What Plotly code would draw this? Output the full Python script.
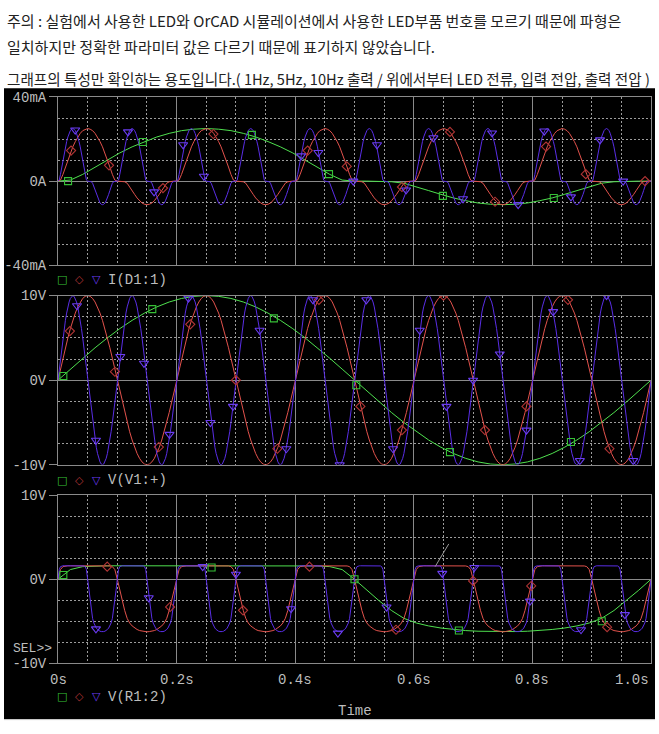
import numpy as np
import plotly.graph_objects as go

# ---------------- data ----------------
FREQS_HZ = [1, 5, 10]                  # green, red, blue traces
SERIES_NAMES = ["1Hz", "5Hz", "10Hz"]

# One period (0..360 deg, 7.5 deg steps); the 5 Hz / 10 Hz
# traces show the very same period shape repeated 5 / 10 times in 1 s.
VIN_PERIOD = [0, 1.31, 2.59, 3.83, 5.0, 6.09, 7.07, 7.93, 8.66, 9.24, 9.66, 9.91, 10.0,
              9.91, 9.66, 9.24, 8.66, 7.93, 7.07, 6.09, 5.0, 3.83, 2.59, 1.31, 0,
              -1.31, -2.59, -3.83, -5.0, -6.09, -7.07, -7.93, -8.66, -9.24, -9.66, -9.91, -10.0,
              -9.91, -9.66, -9.24, -8.66, -7.93, -7.07, -6.09, -5.0, -3.83, -2.59, -1.31, 0]
VOUT_PERIOD = [0, 1.15, 1.5, 1.58, 1.6, 1.6, 1.6, 1.6, 1.6, 1.6, 1.6, 1.6, 1.6,
               1.6, 1.6, 1.6, 1.6, 1.6, 1.6, 1.6, 1.6, 1.58, 1.5, 1.15, 0,
               -1.31, -2.57, -3.72, -4.65, -5.2, -5.55, -5.8, -5.97, -6.1, -6.18, -6.22, -6.25,
               -6.22, -6.18, -6.1, -5.97, -5.8, -5.55, -5.2, -4.65, -3.72, -2.57, -1.31, 0]
ILED_PERIOD = [0, 0.5, 3.2, 6.7, 10.1, 13.4, 16.3, 18.8, 21.0, 22.7, 24.0, 24.7, 25.0,
               24.7, 24.0, 22.7, 21.0, 18.8, 16.3, 13.4, 10.1, 6.7, 3.2, 0.5, 0,
               0, 0, -0.3, -1.0, -2.6, -4.5, -6.3, -8.0, -9.3, -10.4, -11.0, -11.2,
               -11.0, -10.4, -9.3, -8.0, -6.3, -4.5, -2.6, -1.0, -0.3, 0, 0, 0]

# symbol markers (time s, value)
TOP_MARK_T = [[0.017, 0.143, 0.327, 0.457, 0.649, 0.836],
              [0.022, 0.086, 0.177, 0.262, 0.421, 0.487, 0.58, 0.661, 0.737, 0.823, 0.89, 0.99],
              [0.029, 0.118, 0.162, 0.211, 0.246, 0.41, 0.439, 0.498, 0.538, 0.587, 0.633, 0.683,
               0.732, 0.776, 0.82, 0.865, 0.914, 0.953]]
TOP_MARK_V = [[0, 18.6, 22, 3.3, -7, -8],
              [14.5, 7.5, -3.3, 22.4, 14.5, 7, -2.8, 23.4, -9.8, 16.4, 3.3, 0],
              [24.3, 23.4, -5.1, 17.3, 2.3, 12.0, 13.6, 0, 17.3, -4.2, 20.6, -8.4,
               22.9, -11.2, 23.8, -7.5, 19.6, 0]]
MID_MARK_T = [[0.009, 0.159, 0.364, 0.503, 0.661, 0.865],
              [0.02, 0.096, 0.17, 0.223, 0.30, 0.37, 0.44, 0.51, 0.58, 0.65, 0.72, 0.79, 0.86, 0.93],
              [0.032, 0.064, 0.105, 0.145, 0.188, 0.22, 0.257, 0.295, 0.34, 0.385, 0.43, 0.475, 0.52,
               0.565, 0.61, 0.655, 0.70, 0.745, 0.79, 0.835, 0.88, 0.925, 0.97]]
MID_MARK_V = [[0.5, 8.4, 7.3, -0.6, -8.5, -7.3],
              [5.8, 1.0, -7.9, 6.6, 0.0, -8.1, 9.5, -3.1, -5.9, 10.0, -5.9, -3.1, 9.5, -8.1],
              [8.8, -7.1, 2.8, 2.0, -6.4, 9.7, -5.0, -3.1, 5.9, -8.1, 9.5, -10.0, 9.5,
               -8.1, 5.9, -3.1, 0.0, 3.1, -5.9, 8.1, -9.5, 10.0, -9.5]]
BOT_MARK_T = [[0.009, 0.259, 0.5, 0.676, 0.917],
              [0.083, 0.189, 0.312, 0.424, 0.57, 0.7, 0.798, 0.926],
              [0.064, 0.153, 0.244, 0.3, 0.393, 0.472, 0.554, 0.648, 0.702, 0.796, 0.882, 0.956]]
BOT_MARK_V = [[0.5, 1.4, 0, -6.1, -5.0],
              [1.5, -3.3, -3.7, 1.5, -6.0, -0.2, -0.8, -5.7],
              [-5.9, -2.2, 1.5, 0.6, -3.5, -6.4, -3.3, 0.7, 1.4, -2.6, -6.0, -4.2]]

Y_TICKS = [[-40, 0, 40], [-10, 0, 10], [-10, 0, 10]]
Y_TICKTEXT = [["-40mA", "0A", "40mA"], ["-10V", "0V", "10V"], ["-10V", "0V", "10V"]]
X_TICKS = [0, 0.2, 0.4, 0.6, 0.8, 1.0]
X_TICKTEXT = ["0s", "0.2s", "0.4s", "0.6s", "0.8s", "1.0s"]
TRACE_LABELS = ["I(D1:1)", "V(V1:+)", "V(R1:2)"]

NOTE_LINES = [
    "주의 : 실험에서 사용한 LED와 OrCAD 시뮬레이션에서 사용한 LED부품 번호를 모르기 때문에 파형은",
    "일치하지만 정확한 파라미터 값은 다르기 때문에 표기하지 않았습니다.",
    "그래프의 특성만 확인하는 용도입니다.( 1Hz, 5Hz, 10Hz 출력 / 위에서부터 LED 전류, 입력 전압, 출력 전압 )",
]

# ---------------- styling ----------------
W, H = 659, 734
LINE_COLORS = ["#4fe04f", "#e2524c", "#5a2ee6"]
MARK_COLORS = ["#36c036", "#b03434", "#6a3cf0"]
MARK_SYMBOLS = ["square-open", "diamond-open", "triangle-down-open"]
MARK_SIZES = [7, 7, 8]
FRAME = "#8a8a8a"
DOTC = "#9c9c9c"
LABEL = "#bdbdbd"
MONO = "Liberation Mono, DejaVu Sans Mono, monospace"
PLOT_X = (58, 651)
PANELS = [(92, 264), (295, 468), (499, 671)]
LEGEND_Y = [279, 484, 705]
NOTE_Y = [14, 40, 73]
NOTE_SIZE = [15.0, 15.0, 14.6]


def px(y):
    return 1 - y / H


def tile(period, f):
    n = len(period) - 1
    t, v = [], []
    for k in range(f):
        for i in range(n):
            t.append((k + i / n) / f)
            v.append(period[i])
    t.append(1.0)
    v.append(period[-1])
    return t, v


fig = go.Figure()
periods = [ILED_PERIOD, VIN_PERIOD, VOUT_PERIOD]
marks = [(TOP_MARK_T, TOP_MARK_V), (MID_MARK_T, MID_MARK_V), (BOT_MARK_T, BOT_MARK_V)]

for p in range(3):
    xa, ya = ("x", "y") if p == 0 else (f"x{p+1}", f"y{p+1}")
    for s in range(3):
        t, v = tile(periods[p], FREQS_HZ[s])
        fig.add_trace(go.Scatter(x=t, y=v, mode="lines", xaxis=xa, yaxis=ya,
                                 line=dict(color=LINE_COLORS[s], width=1),
                                 name=SERIES_NAMES[s], showlegend=False, hoverinfo="skip"))
    for s in range(3):
        fig.add_trace(go.Scatter(x=marks[p][0][s], y=marks[p][1][s], mode="markers",
                                 xaxis=xa, yaxis=ya,
                                 marker=dict(symbol=MARK_SYMBOLS[s], size=MARK_SIZES[s],
                                             color=MARK_COLORS[s], line=dict(width=1.1, color=MARK_COLORS[s])),
                                 showlegend=False, hoverinfo="skip"))

minor_x = [0.05, 0.1, 0.15, 0.25, 0.3, 0.35, 0.45, 0.5, 0.55, 0.65, 0.7, 0.75, 0.85, 0.9, 0.95]
layout = dict(width=W, height=H, margin=dict(l=0, r=0, t=0, b=0),
              paper_bgcolor="white", plot_bgcolor="black", showlegend=False)
for p in range(3):
    ytop, ybot = PANELS[p]
    sx = "" if p == 0 else str(p + 1)
    yr = Y_TICKS[p][-1]
    step = yr / 4
    layout["xaxis" + sx] = dict(domain=[PLOT_X[0] / W, PLOT_X[1] / W], range=[0, 1],
                                anchor="y" + sx, showline=True, linecolor=FRAME, linewidth=1, mirror=True,
                                tickmode="array", tickvals=X_TICKS, showticklabels=False, ticks="",
                                showgrid=True, gridcolor=FRAME, gridwidth=1, zeroline=False,
                                minor=dict(tickmode="array", tickvals=minor_x, showgrid=True,
                                           gridcolor=DOTC, griddash="2px,2px", gridwidth=1, ticks=""),
                                fixedrange=True)
    layout["yaxis" + sx] = dict(domain=[px(ybot), px(ytop)], range=[-yr, yr], anchor="x" + sx,
                                showline=True, linecolor=FRAME, linewidth=1, mirror=True,
                                tickmode="array", tickvals=Y_TICKS[p], ticktext=Y_TICKTEXT[p],
                                ticks="outside", ticklen=8, tickcolor=FRAME, tickwidth=1,
                                tickfont=dict(family=MONO, size=14, color=LABEL),
                                showgrid=True, gridcolor=FRAME, gridwidth=1, zeroline=False,
                                minor=dict(tickmode="array",
                                           tickvals=[-3 * step, -2 * step, -step, step, 2 * step, 3 * step],
                                           showgrid=True, gridcolor=DOTC, griddash="2px,2px", gridwidth=1,
                                           ticks=""),
                                fixedrange=True)
fig.update_layout(**layout)

shapes = [dict(type="rect", xref="paper", yref="paper", x0=4 / W, x1=655 / W, y0=px(728), y1=px(83),
               fillcolor="black", line=dict(width=0), layer="below"),
          dict(type="line", xref="paper", yref="paper", x0=4 / W, x1=655 / W, y0=px(728.5), y1=px(728.5),
               line=dict(color="#c8c8c8", width=1)),
          dict(type="line", xref="x3", yref="y3", x0=0.659, y0=4.2, x1=0.636, y1=1.5,
               line=dict(color="#9a9a9a", width=1))]
fig.update_layout(shapes=shapes)

ann = []
for txt, yy, fs in zip(NOTE_LINES, NOTE_Y, NOTE_SIZE):
    ann.append(dict(text=txt, xref="paper", yref="paper", x=5 / W, y=px(yy), xanchor="left",
                    yanchor="middle", showarrow=False,
                    font=dict(family="Noto Sans CJK KR", size=fs, color="#222222")))
# x tick labels
for v, txt in zip(X_TICKS, X_TICKTEXT):
    ann.append(dict(text=txt, xref="x3", yref="paper", x=v, y=px(688),
                    xanchor="right" if v == 1.0 else "center", yanchor="middle", showarrow=False,
                    font=dict(family=MONO, size=14, color=LABEL)))
ann.append(dict(text="Time", xref="paper", yref="paper", x=355 / W, y=px(720), xanchor="center",
                yanchor="middle", showarrow=False, font=dict(family=MONO, size=14, color=LABEL)))
ann.append(dict(text="SEL>>", xref="paper", yref="paper", x=54 / W, y=px(656), xanchor="right",
                yanchor="middle", showarrow=False, font=dict(family=MONO, size=13, color=LABEL)))
# legend rows
glyphs = ["□", "◇", "▽"]
gx = [62, 79, 96]
for p in range(3):
    for s in range(3):
        ann.append(dict(text=glyphs[s], xref="paper", yref="paper", x=gx[s] / W, y=px(LEGEND_Y[p]),
                        xanchor="center", yanchor="middle", showarrow=False,
                        font=dict(family="DejaVu Sans", size=11, color=MARK_COLORS[s])))
    ann.append(dict(text=TRACE_LABELS[p], xref="paper", yref="paper", x=106 / W, y=px(LEGEND_Y[p]),
                    xanchor="left", yanchor="middle", showarrow=False,
                    font=dict(family=MONO, size=14, color=LABEL)))
fig.update_layout(annotations=ann)

fig.write_html("out.html")
